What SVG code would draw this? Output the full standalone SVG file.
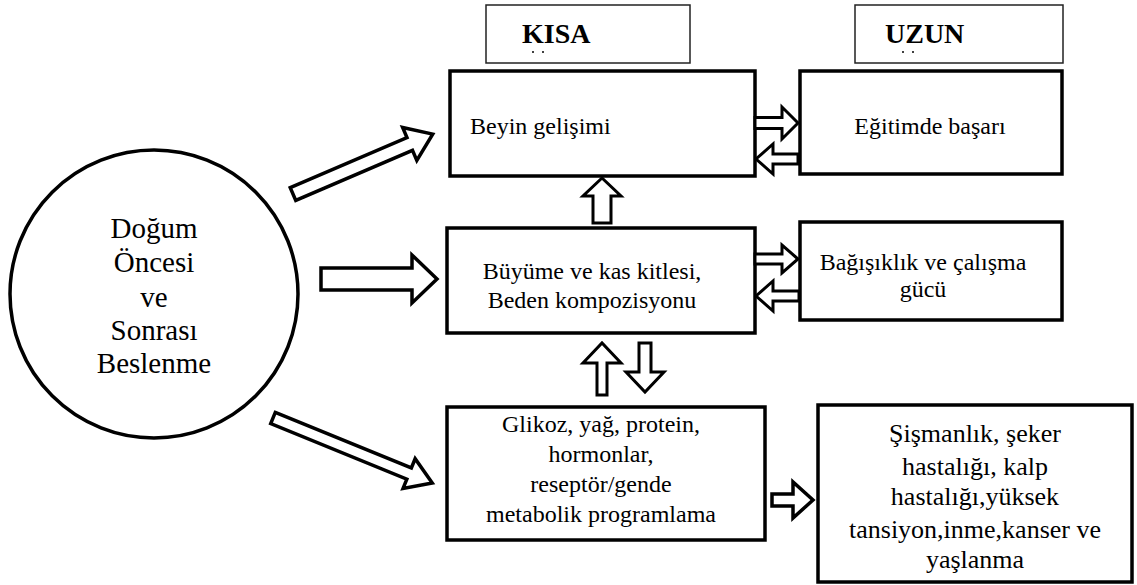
<svg xmlns="http://www.w3.org/2000/svg" width="1137" height="585" viewBox="0 0 1137 585">
<style>
.box{fill:#fff;stroke:#000;stroke-width:3.5}
.hdr{fill:#fff;stroke:#222;stroke-width:1.5}
.t{font-family:'Liberation Serif','Times New Roman','DejaVu Serif',serif;font-size:24px;fill:#000}
.c{text-anchor:middle}
.h{font-family:'Liberation Serif','Times New Roman','DejaVu Serif',serif;font-size:28px;font-weight:bold;fill:#000}
.ct{font-family:'Liberation Serif','Times New Roman','DejaVu Serif',serif;font-size:29px;fill:#000;text-anchor:middle}
.big{font-size:26px}
.ar{fill:#fff;stroke:#000;stroke-width:3.5;stroke-linejoin:miter}
.ars{fill:#fff;stroke:#000;stroke-width:3;stroke-linejoin:miter}
</style>
<g id="hdr-kisa">
<rect class="hdr" x="486" y="5" width="204" height="58"/>
<text class="h" x="522" y="43">KISA</text>
<circle cx="533" cy="52" r="1"/><circle cx="543" cy="52" r="1"/>
</g>
<g id="hdr-uzun">
<rect class="hdr" x="855" y="5" width="208" height="58"/>
<text class="h" x="885" y="43">UZUN</text>
<circle cx="903" cy="52" r="1"/><circle cx="913" cy="52" r="1"/>
</g>
<g id="node-dogum">
<circle cx="154" cy="294" r="144" fill="#fff" stroke="#000" stroke-width="3.5"/>
<text class="ct" x="154" y="238">Doğum</text>
<text class="ct" x="154" y="272">Öncesi</text>
<text class="ct" x="154" y="307">ve</text>
<text class="ct" x="154" y="340">Sonrası</text>
<text class="ct" x="154" y="373">Beslenme</text>
</g>
<g id="node-beyin">
<rect class="box" x="450" y="71" width="305" height="105"/>
<text class="t" x="470" y="134">Beyin gelişimi</text>
</g>
<g id="node-egitim">
<rect class="box" x="800" y="71" width="262" height="103"/>
<text class="t c" x="930" y="134">Eğitimde başarı</text>
</g>
<g id="node-buyume">
<rect class="box" x="447" y="228" width="308" height="105"/>
<text class="t c" x="592" y="279">Büyüme ve kas kitlesi,</text>
<text class="t c" x="592" y="308">Beden kompozisyonu</text>
</g>
<g id="node-bagisiklik">
<rect class="box" x="800" y="222" width="262" height="98"/>
<text class="t c" x="923" y="270">Bağışıklık ve çalışma</text>
<text class="t c" x="923" y="297">gücü</text>
</g>
<g id="node-glikoz">
<rect class="box" x="447" y="407" width="318" height="133"/>
<text class="t c" x="601" y="432">Glikoz, yağ, protein,</text>
<text class="t c" x="601" y="462">hormonlar,</text>
<text class="t c" x="601" y="492">reseptör/gende</text>
<text class="t c" x="601" y="522">metabolik programlama</text>
</g>
<g id="node-sismanlik">
<rect class="box" x="818" y="405" width="314" height="177"/>
<text class="t c big" x="975" y="442">Şişmanlık, şeker</text>
<text class="t c big" x="975" y="475">hastalığı, kalp</text>
<text class="t c big" x="975" y="505">hastalığı,yüksek</text>
<text class="t c big" x="975" y="538">tansiyon,inme,kanser ve</text>
<text class="t c big" x="975" y="568">yaşlanma</text>
</g>
<g id="connectors">
<polygon class="ar" transform="translate(293,194) rotate(-23.2)" points="0,-7 127,-7 127,-18 152,0 127,18 127,7 0,7"/>
<polygon class="ar" transform="translate(321,279)" points="0,-11 91,-11 91,-24 116,0 91,24 91,11 0,11"/>
<polygon class="ar" transform="translate(273,418) rotate(22.2)" points="0,-6 147,-6 147,-16 172,0 147,16 147,6 0,6"/>
<polygon class="ars" transform="translate(755,123)" points="0,-5.5 27,-5.5 27,-16 43,0 27,16 27,5.5 0,5.5"/>
<polygon class="ars" transform="translate(798,159) rotate(180)" points="0,-5 25,-5 25,-15 42,0 25,15 25,5 0,5"/>
<polygon class="ars" transform="translate(755,259)" points="0,-5 27,-5 27,-14 43,0 27,14 27,5 0,5"/>
<polygon class="ars" transform="translate(799,296) rotate(180)" points="0,-5 26,-5 26,-15 43,0 26,15 26,5 0,5"/>
<polygon class="ars" transform="translate(602,223) rotate(-90)" points="0,-9 27,-9 27,-19 45,0 27,19 27,9 0,9"/>
<polygon class="ars" transform="translate(602,395) rotate(-90)" points="0,-5 32,-5 32,-19 52,0 32,19 32,5 0,5"/>
<polygon class="ars" transform="translate(645,343) rotate(90)" points="0,-6 29,-6 29,-19 49,0 29,19 29,6 0,6"/>
<polygon class="ar" transform="translate(772,500)" points="0,-6 21,-6 21,-18 41,0 21,18 21,6 0,6"/>
</g>
</svg>
